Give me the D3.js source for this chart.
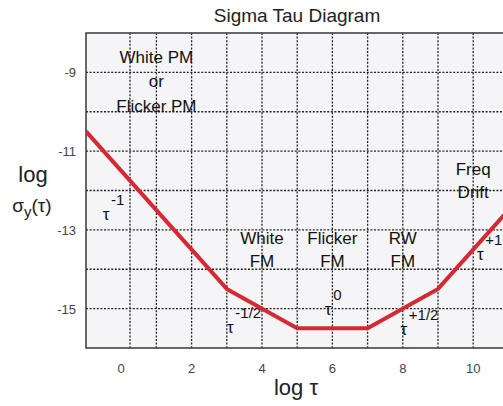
<!DOCTYPE html>
<html>
<head>
<meta charset="utf-8">
<script src="https://cdn.jsdelivr.net/npm/d3@7"></script>
<style>
  body { margin: 0; background: #fff; }
  svg { display: block; font-family: "Liberation Sans", Arial, sans-serif; }
</style>
</head>
<body>
<svg width="503" height="406"></svg>
<script>
// sigma-tau curve (log tau, log sigma)
const curveX = [-1, 3, 5, 7, 9, 12];
const curveY = [-10.5, -14.5, -15.5, -15.5, -14.5, -11.5];

const xTicks = [0, 2, 4, 6, 8, 10];
const yTicks = [-9, -11, -13, -15];
const gridX = [0.25, 1, 2, 3, 4, 5, 6, 7, 8, 9, 10, 11];
const gridY = [-15, -14, -13, -12, -11, -10, -9];

// noise region labels (centre x, first baseline y in data units)
const regionText = [
    { x: 1, y: -8.76, lines: ["White PM", "or", "Flicker PM"] },
    { x: 4, y: -13.36, lines: ["White", "FM"] },
    { x: 6, y: -13.36, lines: ["Flicker", "FM"] },
    { x: 8, y: -13.36, lines: ["RW", "FM"] },
    { x: 10, y: -11.6, lines: ["Freq", "Drift"] }
];

// slope labels tau^n
const slopeText = [
    { x: -0.43, y: -12.75, exp: "-1" },
    { x: 3.1, y: -15.62, exp: "-1/2" },
    { x: 5.88, y: -15.16, exp: "0" },
    { x: 8.03, y: -15.67, exp: "+1/2" },
    { x: 10.2, y: -13.77, exp: "+1" }
];

const svg = d3.select("svg");
const pLeft = 86, pTop = 33, pBottom = 348;

const x = d3.scaleLinear().domain([-1, 12]).range([pLeft, pLeft + 13 * 35.2]);
const y = d3.scaleLinear().domain([-16, -8]).range([pBottom, pTop]);

svg.append("defs").append("clipPath").attr("id", "clip")
    .append("rect")
    .attr("x", pLeft).attr("y", pTop)
    .attr("width", x(12) - pLeft).attr("height", pBottom - pTop);

svg.append("rect")
    .attr("x", pLeft).attr("y", pTop)
    .attr("width", x(12) - pLeft).attr("height", pBottom - pTop)
    .attr("fill", "#f5f5f7");

const grid = svg.append("g").attr("clip-path", "url(#clip)");
grid.selectAll(".gx").data(gridX).enter().append("line")
    .attr("x1", d => x(d)).attr("x2", d => x(d))
    .attr("y1", pTop).attr("y2", pBottom)
    .attr("stroke", "#222").attr("stroke-width", 1.3)
    .attr("stroke-dasharray", "2,1.6");
grid.selectAll(".gy").data(gridY).enter().append("line")
    .attr("x1", pLeft).attr("x2", x(12))
    .attr("y1", d => y(d)).attr("y2", d => y(d))
    .attr("stroke", "#222").attr("stroke-width", 1.3)
    .attr("stroke-dasharray", "2,1.6");

svg.append("rect")
    .attr("x", pLeft).attr("y", pTop)
    .attr("width", x(12) - pLeft).attr("height", pBottom - pTop)
    .attr("fill", "none").attr("stroke", "#444").attr("stroke-width", 1.6);

// region labels
regionText.forEach(r => {
    const t = svg.append("text")
        .attr("text-anchor", "middle")
        .attr("font-size", 17)
        .attr("fill", "#111");
    r.lines.forEach((ln, i) => {
        t.append("tspan")
            .attr("x", x(r.x))
            .attr("y", y(r.y) + i * (r.lines.length === 3 ? 24.5 : 23))
            .text(ln);
    });
});

// slope labels
slopeText.forEach(s => {
    svg.append("text")
        .attr("x", x(s.x)).attr("y", y(s.y))
        .attr("font-size", 17).attr("fill", "#111")
        .attr("text-anchor", "middle")
        .text("τ");
    svg.append("text")
        .attr("x", x(s.x) + 5).attr("y", y(s.y) - 15)
        .attr("font-size", 15).attr("fill", "#111")
        .text(s.exp);
});

// curve
const pts = curveX.map((d, i) => [d, curveY[i]]);
svg.append("path")
    .datum(pts)
    .attr("clip-path", "url(#clip)")
    .attr("d", d3.line().x(d => x(d[0])).y(d => y(d[1])))
    .attr("fill", "none")
    .attr("stroke", "#d42a35")
    .attr("stroke-width", 4)
    .attr("stroke-linejoin", "round");

// tick labels
svg.selectAll(".xt").data(xTicks).enter().append("text")
    .attr("x", d => x(d)).attr("y", 373)
    .attr("text-anchor", "middle")
    .attr("font-size", 13).attr("fill", "#444")
    .text(d => d);
svg.selectAll(".yt").data(yTicks).enter().append("text")
    .attr("x", 76).attr("y", d => y(d) + 5)
    .attr("text-anchor", "end")
    .attr("font-size", 13).attr("fill", "#444")
    .text(d => d);

// titles
svg.append("text")
    .attr("x", 297).attr("y", 22)
    .attr("text-anchor", "middle")
    .attr("font-size", 19).attr("fill", "#222")
    .text("Sigma Tau Diagram");

svg.append("text")
    .attr("x", 296).attr("y", 395)
    .attr("text-anchor", "middle")
    .attr("font-size", 22).attr("fill", "#222")
    .text("log τ");

svg.append("text")
    .attr("x", 33).attr("y", 182)
    .attr("text-anchor", "middle")
    .attr("font-size", 22).attr("fill", "#222")
    .text("log");

const sig = svg.append("text")
    .attr("x", 32).attr("y", 212)
    .attr("text-anchor", "middle")
    .attr("font-size", 19).attr("fill", "#222");
sig.append("tspan").text("σ");
sig.append("tspan").attr("font-size", 15).attr("dy", 5).text("y");
sig.append("tspan").attr("dy", -5).text("(τ)");
</script>
</body>
</html>
